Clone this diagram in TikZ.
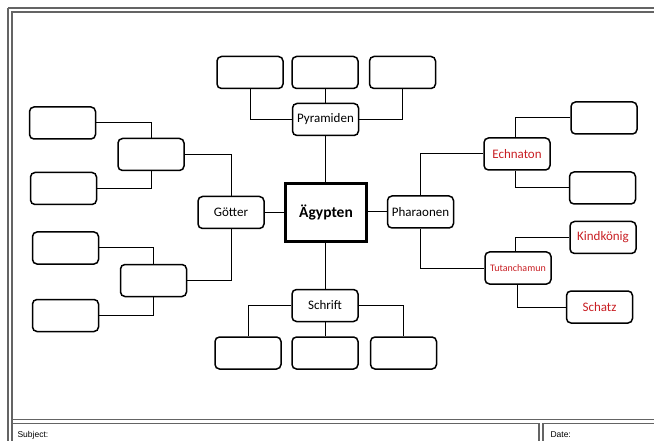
\documentclass[tikz,border=0pt]{standalone}
\usepackage{fontspec}
\setmainfont{Carlito}
\newfontfamily\arialf{Liberation Sans}
\definecolor{txtred}{RGB}{200,30,35}
\definecolor{framegray}{RGB}{100,100,100}
\tikzset{
  bx/.style={draw=black, line width=1.5pt, rounded corners=4.5pt, minimum width=66pt, minimum height=32pt, inner sep=1pt, font=\fontsize{13}{15}\selectfont},
  mainbx/.style={draw=black, line width=2.5pt, minimum width=81pt, minimum height=58pt, font=\fontsize{15.5}{18}\selectfont\bfseries},
  redt/.style={text=txtred},
  con/.style={draw=black, line width=1pt},
  frm/.style={draw=framegray, line width=1.6pt},
  lbl/.style={font=\arialf\fontsize{8.5}{10}\selectfont, anchor=base west}
}
\begin{document}
\begin{tikzpicture}[x=1pt,y=-1pt]
\useasboundingbox (0,0) rectangle (654,441);
\begin{scope}
\clip (0,0) rectangle (654,441);
% frame
\draw[frm] (8,8) -- (670,8);
\draw[frm] (8,8) -- (8,470);
\draw[frm] (12,470) -- (12,12) -- (670,12);
\draw[frm] (12,419.5) -- (670,419.5);
\draw[frm] (12,423.5) -- (539,423.5) -- (539,470);
\draw[frm] (543,470) -- (543,423.5) -- (670,423.5);
\end{scope}
\node[lbl] (subj) at (14,437) {Subject:};
\node[lbl] (date) at (547,437) {Date:};

% center
\node[mainbx] (eg) at (326,212.5) {Ägypten};
% first level
\node[bx] (pyr) at (325.5,119.5) {Pyramiden};
\node[bx] (sch) at (325,305.5) {Schrift};
\node[bx] (goe) at (231,212.5) {Götter};
\node[bx] (pha) at (420.5,212) {Pharaonen};
% pyramiden children
\node[bx] (p1) at (250,72.5) {};
\node[bx] (p2) at (325,72.5) {};
\node[bx] (p3) at (402.5,72.5) {};
% schrift children
\node[bx] (s1) at (248,353) {};
\node[bx] (s2) at (325,353) {};
\node[bx] (s3) at (403.5,353) {};
% goetter
\node[bx] (gu) at (151,154.5) {};
\node[bx] (gl) at (153.5,280.5) {};
\node[bx] (l1) at (62.5,123) {};
\node[bx] (l2) at (63.5,188.5) {};
\node[bx] (l3) at (65.5,248) {};
\node[bx] (l4) at (65.5,315.5) {};
% pharaonen
\node[bx, redt] (ech) at (517,154) {Echnaton};
\node[bx, redt, font=\fontsize{10}{12}\selectfont] (tut) at (518,268) {Tutanchamun};
\node[bx] (r1) at (604,118) {};
\node[bx] (r2) at (602.5,188) {};
\node[bx, redt] (kk) at (603,237.5) {Kindkönig};
\node[bx, redt] (sz) at (599.5,307) {Schatz};

% connectors
\draw[con] (pyr.south) -- (pyr.south |- eg.north);
\draw[con] (sch.north) -- (sch.north |- eg.south);
\draw[con] (goe.east) -- (goe.east -| eg.west);
\draw[con] (pha.west) -- (pha.west -| eg.east);
\draw[con] (p1.south) |- (pyr.west);
\draw[con] (p2.south) -- (p2.south |- pyr.north);
\draw[con] (p3.south) |- (pyr.east);
\draw[con] (sch.west) -| (s1.north);
\draw[con] (sch.south) -- (sch.south |- s2.north);
\draw[con] (sch.east) -| (s3.north);
\draw[con] (goe.north) |- (gu.east);
\draw[con] (goe.south) |- (gl.east);
\draw[con] (l1.east) -| (gu.north);
\draw[con] (l2.east) -| (gu.south);
\draw[con] (l3.east) -| (gl.north);
\draw[con] (l4.east) -| (gl.south);
\draw[con] (pha.north) |- (ech.west);
\draw[con] (pha.south) |- (tut.west);
\draw[con] ([xshift=-2pt]ech.north) |- (r1.west);
\draw[con] ([xshift=-2pt]ech.south) |- (r2.west);
\draw[con] ([xshift=-3pt]tut.north) |- (kk.west);
\draw[con] ([xshift=-1pt]tut.south) |- (sz.west);
\end{tikzpicture}
\end{document}
